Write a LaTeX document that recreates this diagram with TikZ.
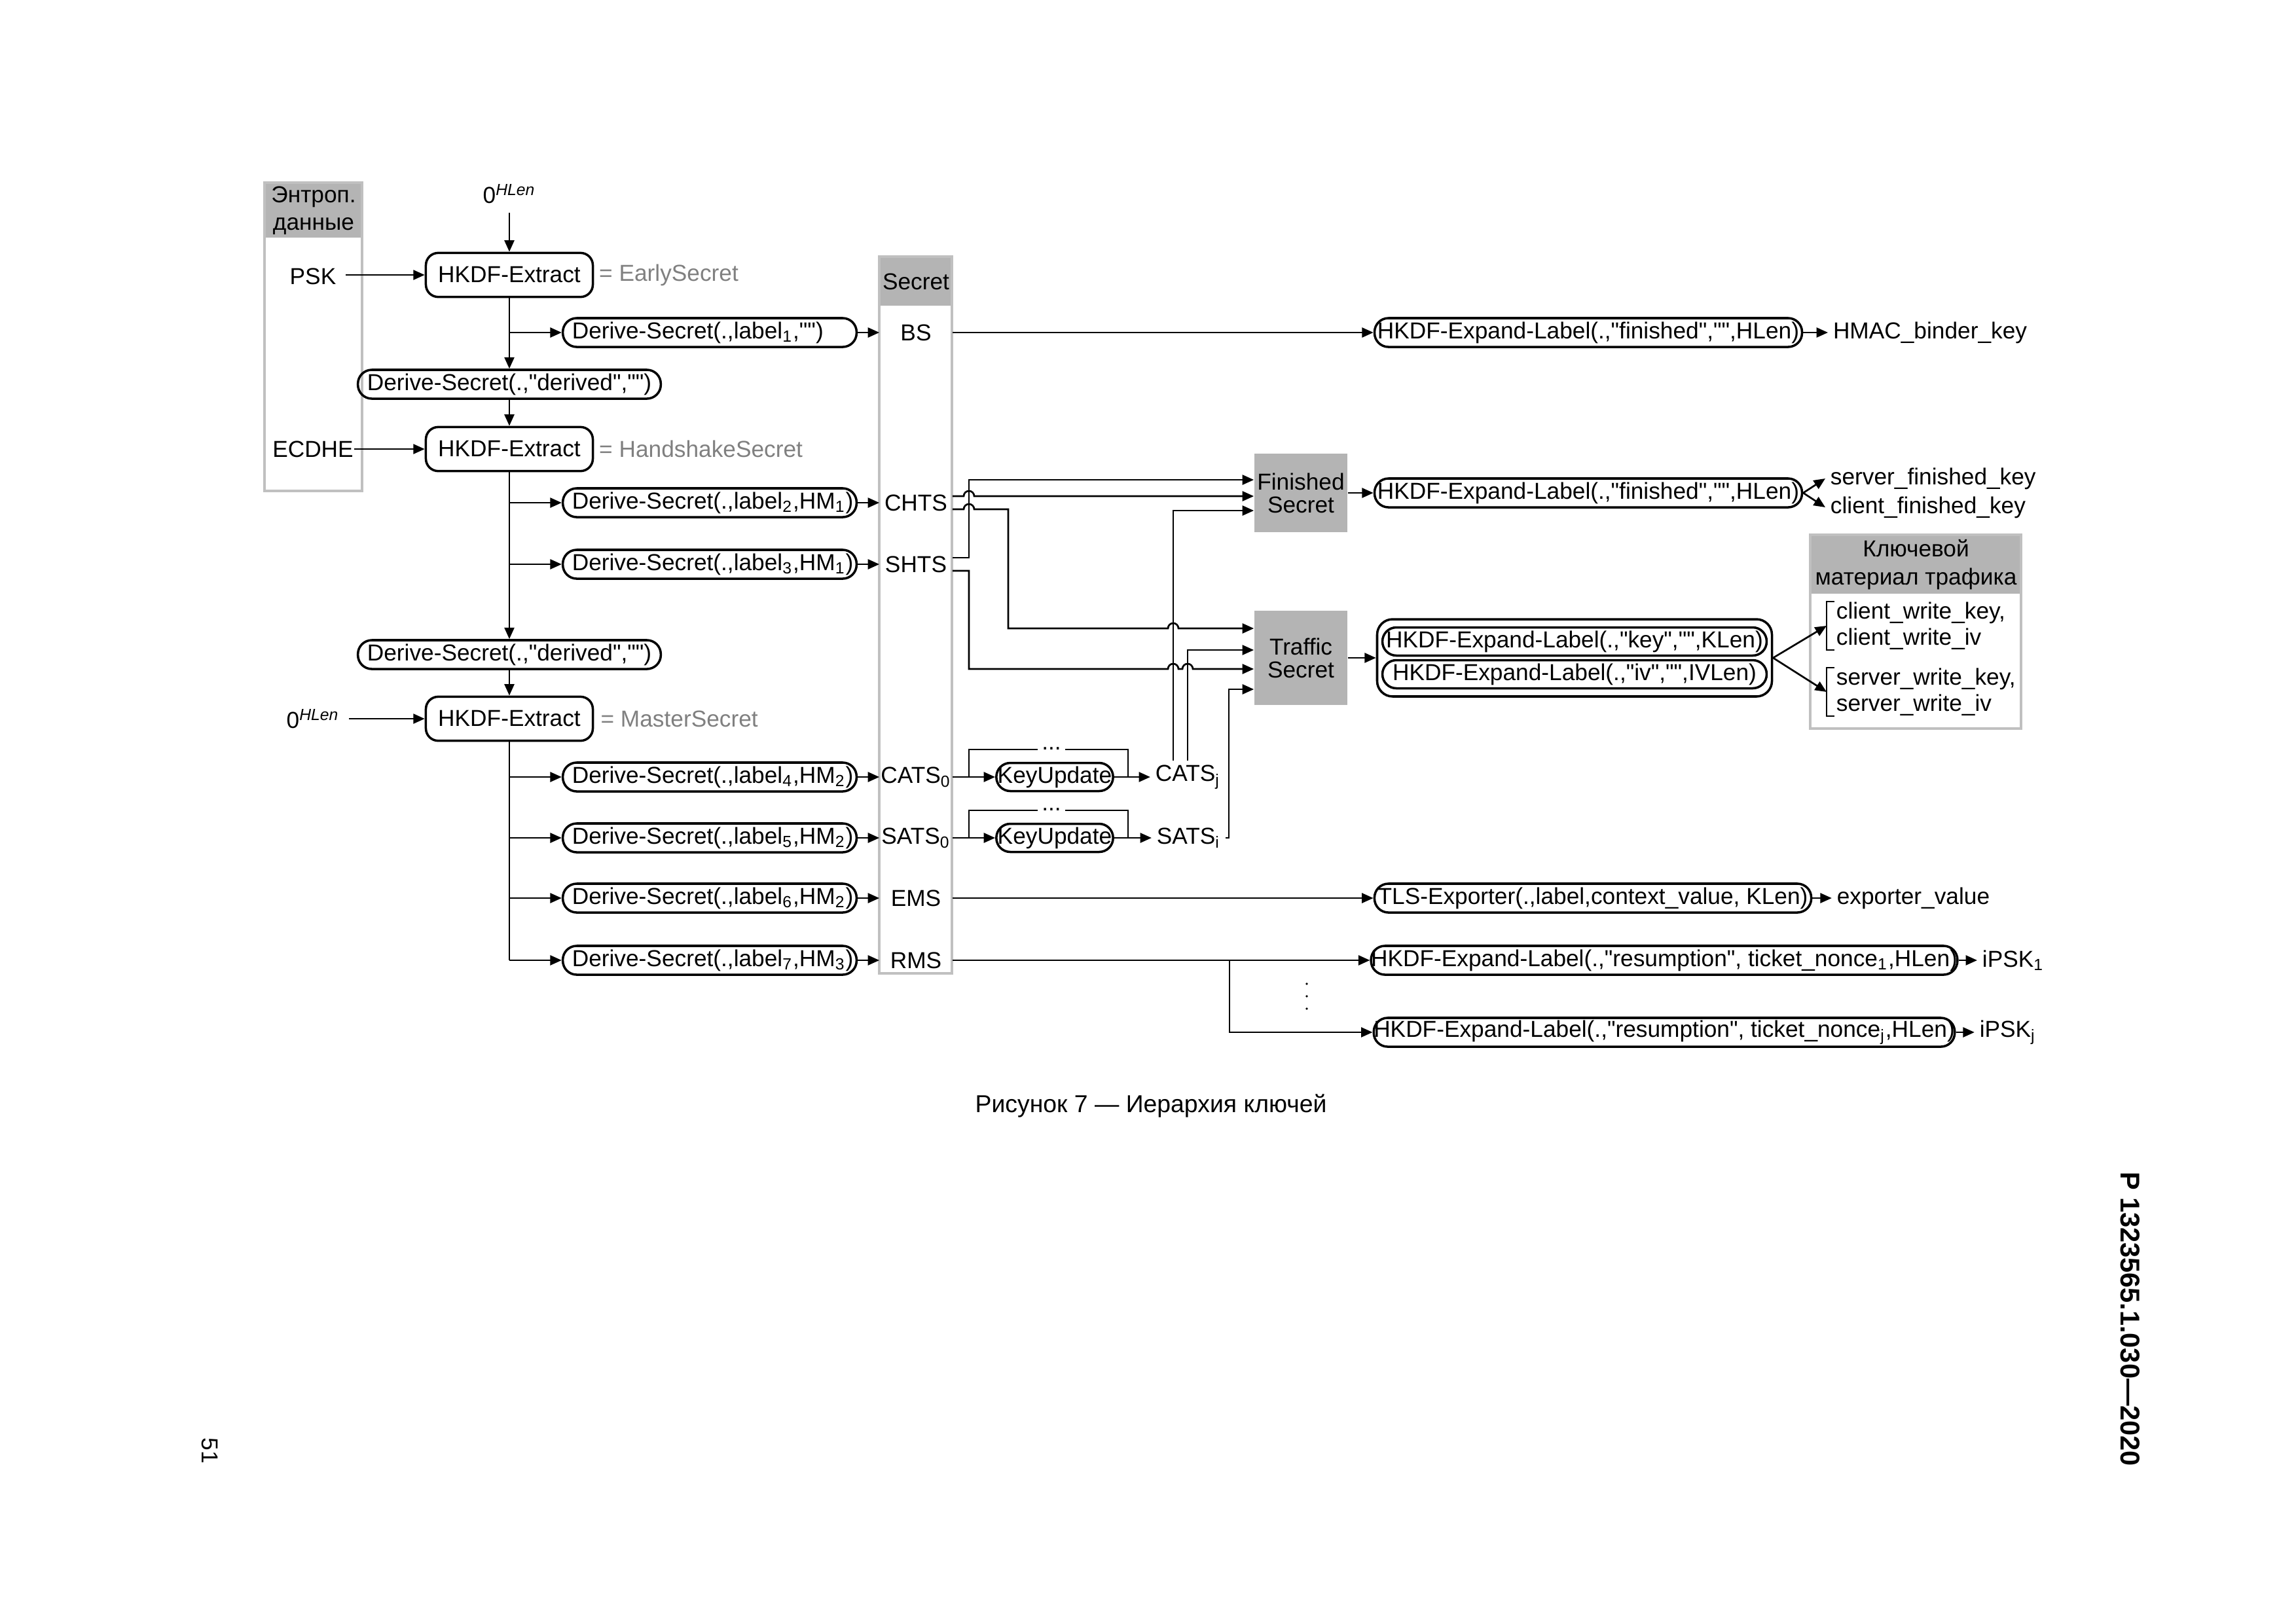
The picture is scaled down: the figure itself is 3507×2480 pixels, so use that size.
\documentclass[tikz,border=0pt]{standalone}
\usepackage{fontspec}
\setmainfont{Liberation Sans}[Ligatures=TeXOff]
\usepackage{tikz}
\usetikzlibrary{arrows.meta,positioning,calc}
\definecolor{hdrgray}{RGB}{180,180,180}
\definecolor{framegray}{RGB}{192,192,192}
\definecolor{labelgray}{RGB}{128,128,128}
\newcommand{\dfont}{\fontsize{8.5}{10.2}\selectfont}
\newcommand{\hopover}{arc[start angle=180,end angle=0,radius=0.6775mm]}

\begin{document}
\begin{tikzpicture}[
  x=0.08469mm,
  y=-0.08469mm,
  font=\dfont,
  >={Triangle[length=4.2pt,width=3.6pt]},
  ln/.style={line width=0.65pt},
  arr/.style={->,line width=0.65pt},
  ext/.style={
    draw,
    line width=0.85pt,
    rounded corners=1.6mm,
    minimum width=21.6mm,
    minimum height=5.7mm,
    inner sep=0pt
  },
  call/.style={
    draw,
    line width=0.85pt,
    rounded corners=1.8mm,
    minimum height=3.73mm,
    inner xsep=1.2mm,
    inner ysep=0pt
  },
  dsec/.style={
    call,
    text width=35.6mm,
    align=left,
    execute at begin node={\exhyphenpenalty=10000\hyphenpenalty=10000\hbadness=10000\hfuzz=50pt\relax}
  },
  hdr/.style={fill=hdrgray,inner sep=0pt,align=center},
  frame/.style={draw=framegray,line width=1.1pt},
  gbox/.style={
    fill=hdrgray,
    align=center,
    font=\fontsize{8.5}{8.4}\selectfont,
    minimum width=12.03mm,
    inner sep=0pt
  },
  sec/.style={text=labelgray,inner sep=0pt},
  lbl/.style={inner xsep=0.6mm,inner ysep=0.5mm},
  keys/.style={align=left,inner sep=0pt,anchor=west,font=\fontsize{8.5}{9.6}\selectfont}
]
\fill[white] (0,0) rectangle (3507,2480);
\useasboundingbox (0,0) rectangle (3507,2480);

\node[hdr,minimum width=12.53mm,minimum height=7.03mm] (enth) at (479,321.5) {Энтроп.\\данные};
\draw[frame] (enth.north west) rectangle (553,750);
\node (psk) at (478,422) {PSK};
\node[inner xsep=0pt] (ecdhe) at (478,686) {ECDHE};
\node (zt) at (778,296) {0\textsuperscript{\itshape HLen}};
\node (zb) at (478,1098) {0\textsuperscript{\itshape HLen}};

\node[ext] (hx1) at (778,420) {HKDF-Extract};
\node[sec,right=0.6mm of hx1] (es) {= EarlySecret};
\node[call,minimum width=38.4mm] (dd1) at (778,587) {Derive-Secret(.,"derived","")};
\node[ext] (hx2) at (778,686) {HKDF-Extract};
\node[sec,right=0.6mm of hx2] (hs) {= HandshakeSecret};
\node[call,minimum width=38.4mm] (dd2) at (778,1000) {Derive-Secret(.,"derived","")};
\node[ext] (hx3) at (778,1098) {HKDF-Extract};
\node[sec,right=0.8mm of hx3] (ms) {= MasterSecret};

\node[dsec] (ds1) at (1084,508) {Derive-Secret(.,label\textsubscript{1},"")};
\node[dsec] (ds2) at (1084,768) {Derive-Secret(.,label\textsubscript{2},HM\textsubscript{1})};
\node[dsec] (ds3) at (1084,862) {Derive-Secret(.,label\textsubscript{3},HM\textsubscript{1})};
\node[dsec] (ds4) at (1084,1187) {Derive-Secret(.,label\textsubscript{4},HM\textsubscript{2})};
\node[dsec] (ds5) at (1084,1280) {Derive-Secret(.,label\textsubscript{5},HM\textsubscript{2})};
\node[dsec] (ds6) at (1084,1372) {Derive-Secret(.,label\textsubscript{6},HM\textsubscript{2})};
\node[dsec] (ds7) at (1084,1467) {Derive-Secret(.,label\textsubscript{7},HM\textsubscript{3})};

\node[hdr,minimum width=9.32mm,minimum height=6.27mm] (sech) at (1399,430) {Secret};
\draw[frame] (sech.north west) rectangle (1454,1487);
\node (bs) at (1399,508) {BS};
\node (chts) at (1399,768) {CHTS};
\node (shts) at (1399,862) {SHTS};
\node (cats0) at (1399,1187) {CATS\textsubscript{0}};
\node (sats0) at (1399,1280) {SATS\textsubscript{0}};
\node (ems) at (1399,1372) {EMS};
\node (rms) at (1399,1467) {RMS};

\node[gbox,minimum height=10.16mm] (fin) at (1987,753) {Finished\\Secret};
\node[gbox,minimum height=12.2mm] (trf) at (1987,1005) {Traffic\\Secret};

\node[call,minimum width=15.1mm,minimum height=3.64mm,inner xsep=0pt] (ku1) at (1611,1187) {KeyUpdate};
\node[lbl,right=4.66mm of ku1] (catsj) {CATS\textsubscript{j}};
\node[call,minimum width=15.1mm,minimum height=3.64mm,inner xsep=0pt] (ku2) at (1611,1280) {KeyUpdate};
\node[lbl,right=4.83mm of ku2] (satsi) {SATS\textsubscript{i}};

\node[call,minimum width=55.3mm,inner xsep=0pt] (hel1) at (2426,508) {HKDF-Expand-Label(.,"finished","",HLen)};
\node[lbl,right=3.2mm of hel1] (hmac) {HMAC\_binder\_key};
\node[call,minimum width=55.3mm,inner xsep=0pt] (hel2) at (2426,753) {HKDF-Expand-Label(.,"finished","",HLen)};
\node[lbl,anchor=west] (sfk) at (2788,731) {server\_finished\_key};
\node[lbl,anchor=west] (cfk) at (2788,775) {client\_finished\_key};

\node[hdr,minimum width=27.19mm,minimum height=7.54mm] (kmh) at (2926.5,862.5) {Ключевой\\материал трафика};
\draw[frame] (kmh.north west) rectangle (3087,1113);
\node[draw,line width=0.85pt,rounded corners=2mm,minimum width=51.07mm,minimum height=9.99mm] (grp) at (2405,1005) {};
\node[call,minimum width=49.7mm,minimum height=3.64mm,inner xsep=0pt] (hk) at (2405,980) {HKDF-Expand-Label(.,"key","",KLen)};
\node[call,minimum width=49.7mm,minimum height=3.64mm,inner xsep=0pt] (hiv) at (2405,1030) {HKDF-Expand-Label(.,"iv","",IVLen)};
\node[keys] (cw) at (2804,956) {client\_write\_key,\\client\_write\_iv};
\node[keys] (sw) at (2804,1057) {server\_write\_key,\\server\_write\_iv};

\node[call,minimum width=56.5mm,inner xsep=0pt] (tlse) at (2433,1372) {TLS-Exporter(.,label,context\_value, KLen)};
\node[lbl,right=2.5mm of tlse] (expv) {exporter\_value};
\node[call,minimum width=74.95mm,inner xsep=0pt] (hr1) at (2542,1467) {HKDF-Expand-Label(.,"resumption", ticket\_nonce\textsubscript{1},HLen)};
\node[lbl,right=2.4mm of hr1] (ipsk1) {iPSK\textsubscript{1}};
\node[call,minimum width=74.95mm,inner xsep=0pt] (hrj) at (2542,1577) {HKDF-Expand-Label(.,"resumption", ticket\_nonce\textsubscript{j},HLen)};
\node[lbl,right=2.4mm of hrj] (ipskj) {iPSK\textsubscript{j}};
\coordinate (vd) at (1996,1522);
\fill (vd) ++(0,-19) circle (0.16mm) (vd) circle (0.16mm) (vd) ++(0,19) circle (0.16mm);

\node[font=\fontsize{9}{11}\selectfont] (cap) at (1758,1689) {Рисунок 7 — Иерархия ключей};
\node[rotate=-90,font=\fontsize{10}{12}\selectfont\bfseries] (std) at (3254,2015) {Р 1323565.1.030—2020};
\node[rotate=-90] (pg) at (320,2216) {51};

\coordinate (vA) at (1480,0);
\coordinate (vC) at (1540,0);
\coordinate (vF) at (1792,0);
\coordinate (vT) at (1814,0);
\coordinate (vS) at (1877,0);
\coordinate (vR) at (1878,0);
\coordinate (chA) at ($(chts -| sech.east)+(0,-10)$);
\coordinate (chB) at ($(chts -| sech.east)+(0,10)$);
\coordinate (shA) at ($(shts -| sech.east)+(0,-10)$);
\coordinate (shB) at ($(shts -| sech.east)+(0,10)$);
\coordinate (fA) at ($(fin.west)+(0,-20)$);
\coordinate (fC) at ($(fin.west)+(0,27)$);
\coordinate (tA) at ($(trf.west)+(0,-45)$);
\coordinate (tB) at ($(trf.west)+(0,-12)$);
\coordinate (tC) at ($(trf.west)+(0,17)$);
\coordinate (tD) at ($(trf.west)+(0,48)$);

\draw[arr] (zt) -- (hx1);
\draw[arr] (psk.east |- hx1) -- (hx1);
\draw[arr] (hx1) -- (dd1);
\draw[arr] (hx1.south |- ds1.west) -- (ds1.west);
\draw[arr] (dd1) -- (hx2);
\draw[arr] (ecdhe) -- (hx2);
\draw[arr] (hx2) -- (dd2);
\draw[arr] (hx2.south |- ds2.west) -- (ds2.west);
\draw[arr] (hx2.south |- ds3.west) -- (ds3.west);
\draw[arr] (dd2) -- (hx3);
\draw[arr] (zb) -- (hx3);
\draw[ln] (hx3.south) -- (hx3.south |- ds7.west);
\draw[arr] (hx3.south |- ds4.west) -- (ds4.west);
\draw[arr] (hx3.south |- ds5.west) -- (ds5.west);
\draw[arr] (hx3.south |- ds6.west) -- (ds6.west);
\draw[arr] (hx3.south |- ds7.west) -- (ds7.west);

\draw[arr] (ds1.east) -- (ds1 -| sech.west);
\draw[arr] (ds2.east) -- (ds2 -| sech.west);
\draw[arr] (ds3.east) -- (ds3 -| sech.west);
\draw[arr] (ds4.east) -- (ds4 -| sech.west);
\draw[arr] (ds5.east) -- (ds5 -| sech.west);
\draw[arr] (ds6.east) -- (ds6 -| sech.west);
\draw[arr] (ds7.east) -- (ds7 -| sech.west);

\draw[arr] (hel1 -| sech.east) -- (hel1.west);
\draw[arr] (hel1) -- (hmac);
\draw[arr] (fin) -- (hel2);
\draw[arr] (hel2.east) -- (sfk.west);
\draw[arr] (hel2.east) -- (cfk.west);
\draw[arr] (trf) -- (grp);
\draw[ln] ($(cw.north west)+(-2,0)$) -- ++(-12,0) |- ($(cw.south west)+(-2,0)$);
\draw[ln] ($(sw.north west)+(-2,0)$) -- ++(-12,0) |- ($(sw.south west)+(-2,0)$);
\draw[arr] (grp.east) -- ($(cw.west)+(-14,0)$);
\draw[arr] (grp.east) -- ($(sw.west)+(-14,0)$);
\draw[arr] (tlse -| sech.east) -- (tlse.west);
\draw[arr] (tlse) -- (expv);
\draw[arr] (hr1 -| sech.east) -- (hr1.west);
\draw[arr] (vR |- hr1.west) |- (hrj.west);
\draw[arr] (hr1) -- (ipsk1);
\draw[arr] (hrj) -- (ipskj);

\draw[arr] (ku1 -| sech.east) -- (ku1.west);
\draw[arr] (ku1) -- (catsj);
\draw[ln] (vA |- ku1) -- ++(0,-42) -| ($(ku1.east)+(21,0)$);
\node[fill=white,inner xsep=0.5mm,inner ysep=0.3mm] (dt1) at ($(ku1.north)+(-5,-20)$) {...};
\draw[arr] (ku2 -| sech.east) -- (ku2.west);
\draw[arr] (ku2) -- (satsi);
\draw[ln] (vA |- ku2) -- ++(0,-42) -| ($(ku2.east)+(21,0)$);
\node[fill=white,inner xsep=0.5mm,inner ysep=0.3mm] (dt2) at ($(ku2.north)+(-5,-20)$) {...};

\draw[arr] (shA) -| (vA |- fA) -- (fA);
\draw[arr] (chA) -- ($(vA |- chA)+(-8,0)$) \hopover -- (chA -| fin.west);
\draw[arr] (chB) -- ($(vA |- chB)+(-8,0)$) \hopover -| (vC |- tA)
  -- ($(vF |- tA)+(-8,0)$) \hopover -- (tA);
\draw[arr] (shB) -| (vA |- tC) -- ($(vF |- tC)+(-8,0)$) \hopover
  -- ($(vT |- tC)+(-8,0)$) \hopover -- (tC);
\draw[arr] (vF |- catsj.north) |- (fC);
\draw[arr] (vT |- catsj.north) |- (tB);
\draw[arr] (satsi.east) -| (vS |- tD) -- (tD);
\end{tikzpicture}
\end{document}
